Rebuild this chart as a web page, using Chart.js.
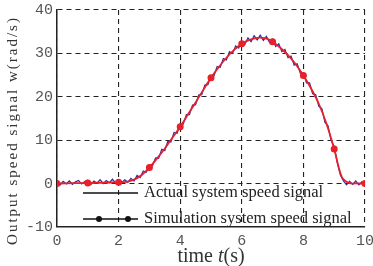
<!DOCTYPE html>
<html lang="en">
<head>
<meta charset="UTF-8">
<title>Output speed signal</title>
<script src="https://cdn.jsdelivr.net/npm/chart.js"></script>
<style>
  html, body { margin: 0; padding: 0; background: #fff; overflow: hidden; }
  #wrap { width: 373px; height: 266px; }
</style>
</head>
<body>
<div id="wrap"><canvas id="speedChart" width="373" height="266"></canvas></div>
<script>
let actualTimes = [];
for (let i = 0; i <= 100; i++) actualTimes.push(i / 10);
let actualSpeed = [
  0.2, -0.3, 0.5, -0.1, 0.6, -0.2, 0.4, 0.7, -0.1, 0.5, 0.8, -0.2, 0.6, 0.1, 0.9, 0.0, 0.7, 0.2, 1.0, 0.1, 0.8,
  0.2, 0.9, 0.3, 1.2, 0.6, 1.9, 1.4, 2.9, 2.6, 4.3,
  4.1, 5.9, 5.8, 7.9, 7.6, 9.8, 9.6, 11.8, 11.6, 13.8,
  13.7, 15.9, 15.9, 18.1, 18.2, 20.4, 20.5, 22.7, 22.8, 24.9,
  24.9, 27.0, 26.8, 28.8, 28.5, 30.4, 30.0, 31.7, 31.2, 32.8,
  32.1, 33.6, 32.7, 34.1, 33.1, 34.2, 33.0, 33.9, 32.5, 33.3,
  31.6, 32.2, 30.4, 30.9, 29.0, 29.4, 27.3, 27.6, 25.4, 25.5,
  23.2, 23.2, 20.7, 20.5, 17.8, 17.3, 14.1, 13.3, 9.9, 8.6,
  4.8, 2.0, 0.6, -0.3, 0.5, -0.2, 0.6, -0.3, 0.4, 0.0
];

// simulation signal, every 0.25 s; markers on whole seconds
let simTimes = [];
for (let i = 0; i <= 40; i++) simTimes.push(i / 4);
let simSpeed = [
  0, 0.05, 0.1, 0.1, 0.15, 0.2, 0.2, 0.25, 0.3, 0.4, 0.9, 2.0, 3.7, 5.8, 8.1, 10.6,
  13.1, 15.9, 18.7, 21.6, 24.4, 26.8, 29.0, 30.8, 32.2, 33.1, 33.6, 33.5, 32.7, 31.3,
  29.6, 27.5, 24.9, 21.9, 18.4, 13.8, 8.0, 1.5, 0.1, 0.05, 0
];

let xTicks = [0, 2, 4, 6, 8, 10];
let yTicks = [-10, 0, 10, 20, 30, 40];
let legendNames = ['Actual system speed signal', 'Simulation system speed signal'];
let yTitle = 'Output speed signal w(rad/s)';

let serif = '"Liberation Serif", "DejaVu Serif", serif';
let mono = '"Liberation Mono", "DejaVu Sans Mono", monospace';

let extraText = {
  id: 'extraText',
  afterDraw(chart) {
    let ctx = chart.ctx;
    let area = chart.chartArea;
    ctx.save();

    // y title, spaced out
    ctx.fillStyle = '#333';
    ctx.font = '15px ' + serif;
    ctx.letterSpacing = '2px';
    ctx.translate(13, (area.top + area.bottom) / 2 + 12);
    ctx.rotate(-Math.PI / 2);
    ctx.textAlign = 'center';
    ctx.textBaseline = 'middle';
    ctx.fillText(yTitle, 0, 0);
    ctx.setTransform(1, 0, 0, 1, 0, 0);
    ctx.letterSpacing = '0px';

    // x title with italic t
    let parts = [['time ', ''], ['t', 'italic '], ['(s)', '']];
    let w = 0;
    for (let p of parts) { ctx.font = p[1] + '20px ' + serif; w += ctx.measureText(p[0]).width; }
    let x = (area.left + area.right) / 2 - w / 2;
    ctx.textAlign = 'left';
    ctx.textBaseline = 'middle';
    for (let p of parts) {
      ctx.font = p[1] + '20px ' + serif;
      ctx.fillText(p[0], x, 257);
      x += ctx.measureText(p[0]).width;
    }

    // legend in the lower part of the plot
    let lx0 = area.left + 26, lx1 = area.left + 81;
    let rows = [area.bottom - 34, area.bottom - 8];
    ctx.strokeStyle = '#111';
    ctx.lineWidth = 1.5;
    ctx.font = '16.5px ' + serif;
    rows.forEach((ry, i) => {
      ctx.beginPath();
      ctx.moveTo(lx0, ry);
      ctx.lineTo(lx1, ry);
      ctx.stroke();
      if (i === 1) {
        ctx.fillStyle = '#111';
        [lx0 + 16, lx0 + 45].forEach(dx => {
          ctx.beginPath();
          ctx.arc(dx, ry, 3, 0, Math.PI * 2);
          ctx.fill();
        });
      }
      ctx.fillStyle = '#222';
      ctx.fillText(legendNames[i], lx1 + 6, ry);
    });
    ctx.restore();
  }
};

let speedCtx = document.getElementById('speedChart').getContext('2d');
let speedChart = new Chart(speedCtx, {
  type: 'line',
  data: {
    datasets: [
      {
        label: legendNames[0],
        data: actualTimes.map((t, i) => ({ x: t, y: actualSpeed[i] })),
        borderColor: '#2d2f9e',
        borderWidth: 1.2,
        pointRadius: 0,
        tension: 0,
        order: 2
      },
      {
        label: legendNames[1],
        data: simTimes.map((t, i) => ({ x: t, y: simSpeed[i] })),
        borderColor: '#e8202a',
        backgroundColor: '#e8202a',
        borderWidth: 1.8,
        pointRadius: simTimes.map(t => Number.isInteger(t) ? 3.5 : 0),
        pointBorderWidth: 0,
        tension: 0.3,
        order: 1
      }
    ]
  },
  options: {
    responsive: false,
    animation: false,
    layout: { padding: { top: 10, right: 8, left: 0, bottom: 0 } },
    plugins: { legend: { display: false }, tooltip: { enabled: false } },
    scales: {
      x: {
        type: 'linear',
        min: 0, max: 10,
        afterBuildTicks: s => { s.ticks = xTicks.map(v => ({ value: v })); },
        afterFit: s => { s.height = 39; s.paddingLeft = 0; s.paddingRight = 0; },
        ticks: { color: '#555', padding: 5, font: { family: mono, size: 15 } },
        grid: { color: '#222', lineWidth: 1.1, drawTicks: false },
        border: { color: '#222', width: 1.5, dash: [5, 4] }
      },
      y: {
        min: -10, max: 40,
        afterBuildTicks: s => { s.ticks = yTicks.map(v => ({ value: v })); },
        afterFit: s => { s.width = 57; s.paddingTop = 0; s.paddingBottom = 0; },
        ticks: { color: '#555', padding: 4, font: { family: mono, size: 15 } },
        grid: { color: '#222', lineWidth: 1.1, drawTicks: false },
        border: { color: '#222', width: 1.5, dash: [5, 4] }
      }
    }
  },
  plugins: [extraText]
});
</script>
</body>
</html>
